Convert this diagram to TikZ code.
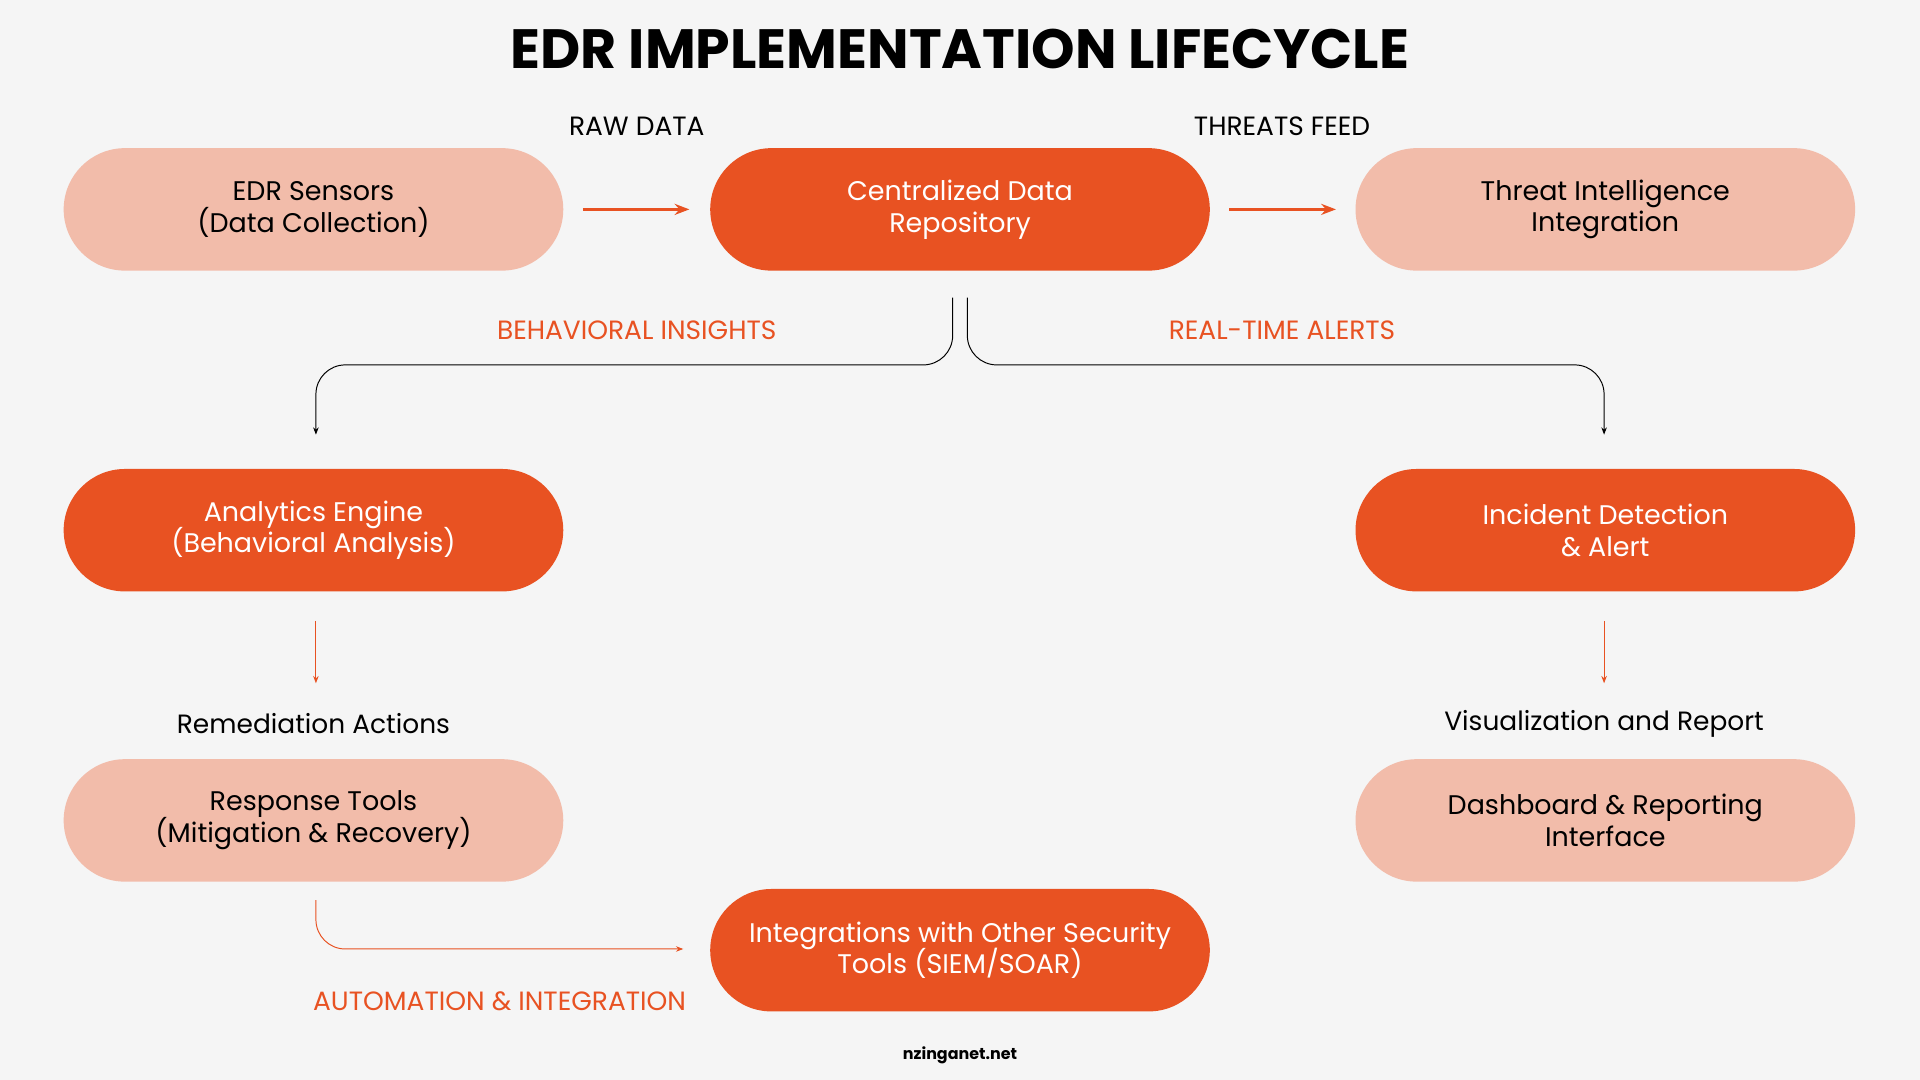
\documentclass[tikz,border=0pt]{standalone}
\usepackage{fontspec}
\setmainfont{Poppins}
\usetikzlibrary{arrows.meta}
\definecolor{dk}{HTML}{E85222}
\definecolor{lt}{HTML}{F2BCAA}
\definecolor{bg}{HTML}{F5F5F5}
\newcommand{\pillfont}{\fontsize{11}{13}\selectfont\lineskiplimit=-20pt\relax}
\begin{document}
\begin{tikzpicture}[x=0.5pt,y=-0.5pt,
 pill/.style={rounded corners=25pt,minimum width=204pt,minimum height=50pt,align=center,font=\pillfont,inner sep=0pt},
 pd/.style={pill,fill=dk,text=white},
 pl/.style={pill,fill=lt,text=black},
 lab/.style={font=\fontsize{10.8}{12}\selectfont},
 ol/.style={lab,text=dk},
 oa/.style={draw=dk,-{Stealth[length=3pt]},line width=0.4pt},
 ba/.style={draw=black,-{Stealth[length=3pt]},line width=0.4pt,rounded corners=12pt}]
\fill[bg] (0,0) rectangle (1568,882);
\node[font=\fontsize{22.6}{26}\selectfont\bfseries] (title) at (784,40) {EDR IMPLEMENTATION LIFECYCLE};
\node[pl] (s) at (256,171) {EDR Sensors\\(Data Collection)};
\node[pd] (c) at (784,171) {Centralized Data\\Repository};
\node[pl] (t) at (1311,171) {Threat Intelligence\\Integration};
\node[pd] (a) at (256,433) {Analytics Engine\\(Behavioral Analysis)};
\node[pd] (i) at (1311,433) {Incident Detection\\\& Alert};
\node[pl] (r) at (256,670) {Response Tools\\(Mitigation \& Recovery)};
\node[pl] (d) at (1311,670) {Dashboard \& Reporting\\Interface};
\node[pd] (g) at (784,776) {Integrations with Other Security\\Tools (SIEM/SOAR)};
\node[lab] (l1) at (520,103) {RAW DATA};
\node[lab] (l2) at (1047,103) {THREATS FEED};
\node[ol] (l3) at (520,270) {BEHAVIORAL INSIGHTS};
\node[ol] (l4) at (1047,270) {REAL-TIME ALERTS};
\node[lab] (l5) at (256,591) {Remediation Actions};
\node[lab] (l6) at (1310,591) {Visualization and Report};
\node[ol] (l7) at (408,818) {AUTOMATION \& INTEGRATION};
\node[font=\fontsize{6.5}{8}\selectfont\bfseries] (w) at (784,862) {nzinganet.net};
\coordinate (c1) at (778,243); \coordinate (c2) at (790,243);
\coordinate (a0) at (258,355); \coordinate (i0) at (1310,355);
\draw[ba] (c1) |- (518,298) -| (a0);
\draw[ba] (c2) |- (1050,298) -| (i0);
\draw[draw=dk,-{Stealth[length=6pt]},line width=1pt] (476,171) coordinate(p1) -- (563,171) coordinate(p2);
\draw[draw=dk,-{Stealth[length=6pt]},line width=1pt] (1004,171) coordinate(p3) -- (1091,171) coordinate(p4);
\draw[oa] (258,507) coordinate(q1) -- (258,558) coordinate(q2);
\draw[oa] (1310,507) coordinate(q3) -- (1310,558) coordinate(q4);
\draw[oa,rounded corners=12pt] (258,735) coordinate(q5) |- (558,775) coordinate(q6);
\end{tikzpicture}
\end{document}
